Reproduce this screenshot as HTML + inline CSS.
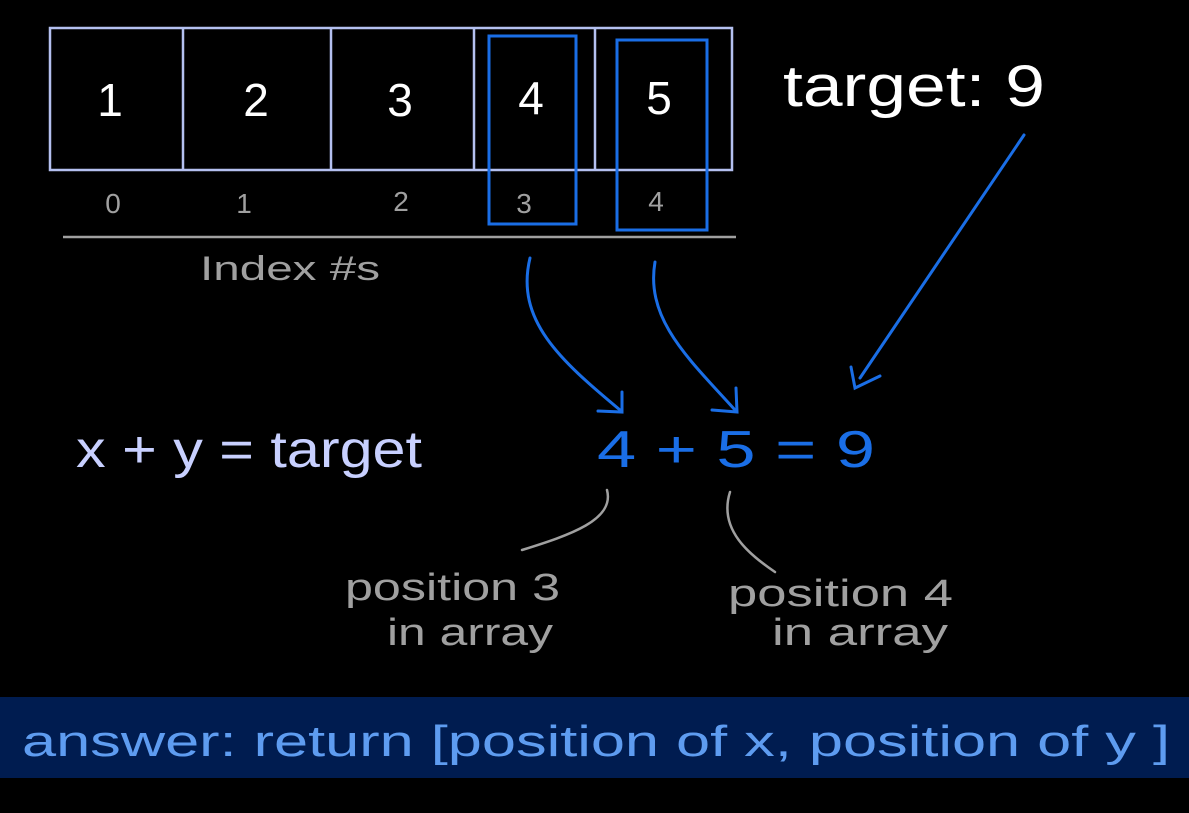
<!DOCTYPE html>
<html><head><meta charset="utf-8"><style>
html,body{margin:0;padding:0;background:#000;}
svg{display:block;}
text{font-family:"Liberation Sans",sans-serif;}
</style></head><body>
<svg width="1189" height="813" viewBox="0 0 1189 813" xmlns="http://www.w3.org/2000/svg">
<rect width="1189" height="813" fill="#000"/>
<g fill="none" stroke="#b4c0f0" stroke-width="2.5">
<rect x="50" y="28" width="682" height="142"/>
<line x1="183" y1="28" x2="183" y2="170"/>
<line x1="331" y1="28" x2="331" y2="170"/>
<line x1="474" y1="28" x2="474" y2="170"/>
<line x1="595" y1="28" x2="595" y2="170"/>
</g>
<g fill="#fff" font-size="46" text-anchor="middle">
<text x="110" y="116">1</text><text x="256" y="116">2</text><text x="400" y="116">3</text><text x="531" y="114">4</text><text x="659" y="114">5</text>
</g>
<g fill="none" stroke="#1a6ee6" stroke-width="3">
<rect x="489" y="36" width="87" height="188"/>
<rect x="617" y="40" width="90" height="190"/>
</g>
<g fill="#a0a0a0" font-size="28" text-anchor="middle">
<text x="113" y="213">0</text><text x="244" y="213">1</text><text x="401" y="211">2</text><text x="524" y="213">3</text><text x="656" y="211">4</text>
</g>
<line x1="63" y1="237" x2="736" y2="237" stroke="#a0a0a0" stroke-width="2.5"/>
<text x="200" y="280" fill="#a0a0a0" font-size="34" textLength="180" lengthAdjust="spacingAndGlyphs">Index #s</text>
<text x="783" y="106" fill="#fff" font-size="58" textLength="262" lengthAdjust="spacingAndGlyphs">target: 9</text>
<g fill="none" stroke="#1a6ee6" stroke-width="3" stroke-linecap="round">
<line x1="1024" y1="135" x2="860" y2="378"/>
<path d="M851 367 L855 388 L880 376"/>
<path d="M530 258 C515 320 560 360 620 410"/>
<path d="M598 411 L622 412 L622 392"/>
<path d="M655 262 C645 320 690 360 735 410"/>
<path d="M712 410 L737 412 L736 388"/>
</g>
<text x="76" y="467" fill="#c8d0ff" font-size="52" textLength="346" lengthAdjust="spacingAndGlyphs">x + y = target</text>
<text x="597" y="467" fill="#1a6ee6" font-size="52" textLength="278" lengthAdjust="spacingAndGlyphs">4 + 5 = 9</text>
<g fill="none" stroke="#a0a0a0" stroke-width="2.5" stroke-linecap="round">
<path d="M607 490 C615 520 570 535 522 550"/>
<path d="M730 492 C718 530 750 555 775 572"/>
</g>
<g fill="#a0a0a0" font-size="38" lengthAdjust="spacingAndGlyphs">
<text x="345" y="600" textLength="215" lengthAdjust="spacingAndGlyphs">position 3</text>
<text x="387" y="645" textLength="166" lengthAdjust="spacingAndGlyphs">in array</text>
<text x="728" y="606" textLength="225" lengthAdjust="spacingAndGlyphs">position 4</text>
<text x="772" y="645" textLength="176" lengthAdjust="spacingAndGlyphs">in array</text>
</g>
<rect x="0" y="697" width="1189" height="81" fill="#001c50"/>
<text x="22" y="756" fill="#5e9cf0" font-size="44" textLength="1148" lengthAdjust="spacingAndGlyphs">answer: return [position of x, position of y ]</text>
</svg>
</body></html>
